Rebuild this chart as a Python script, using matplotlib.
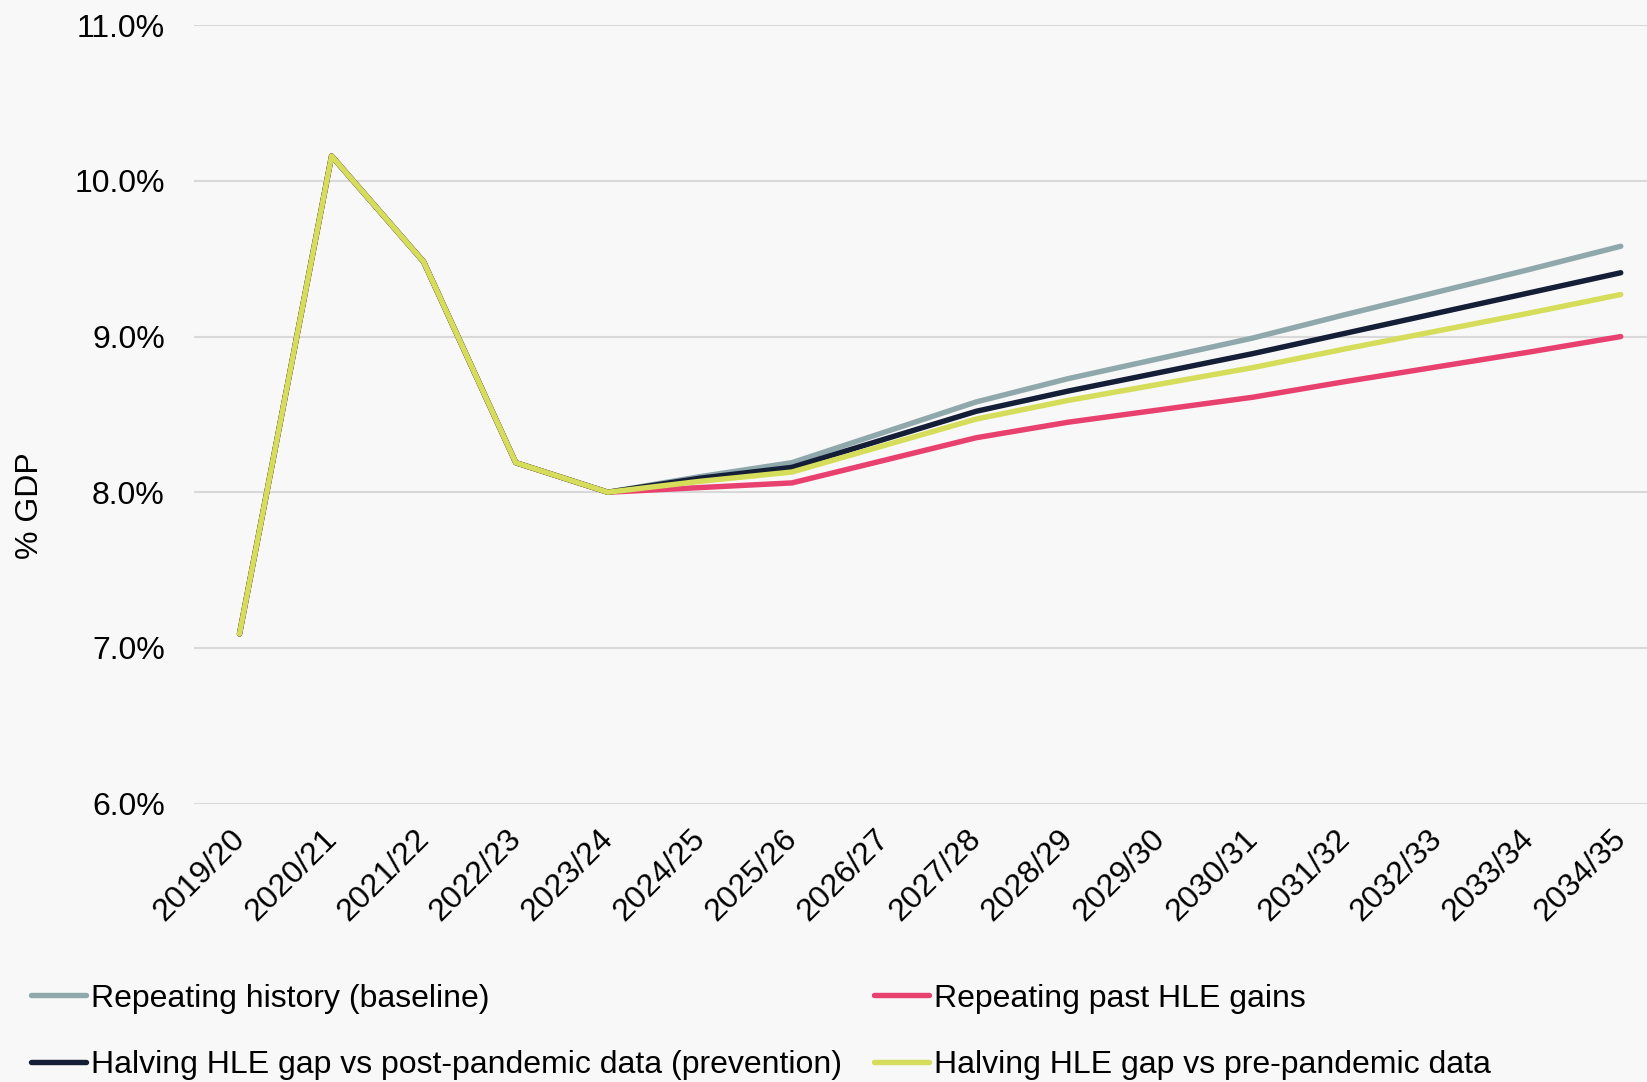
import numpy as np
import matplotlib.pyplot as plt
import matplotlib.transforms as mtransforms

plt.rcParams['font.family'] = ['Liberation Sans', 'DejaVu Sans']

# data (% of GDP)
years = ['2019/20', '2020/21', '2021/22', '2022/23', '2023/24', '2024/25', '2025/26',
         '2026/27', '2027/28', '2028/29', '2029/30', '2030/31', '2031/32', '2032/33',
         '2033/34', '2034/35']
history = [7.09, 10.16, 9.48, 8.19, 8.00]
baseline = history + [8.10, 8.19, 8.385, 8.58, 8.73, 8.86, 8.99, 9.14, 9.285, 9.43, 9.58]
past_gains = history + [8.03, 8.06, 8.205, 8.35, 8.45, 8.53, 8.61, 8.71, 8.805, 8.90, 9.00]
prevention = history + [8.09, 8.16, 8.34, 8.52, 8.65, 8.77, 8.89, 9.02, 9.15, 9.28, 9.41]
pre_pandemic = history + [8.07, 8.13, 8.30, 8.47, 8.59, 8.695, 8.80, 8.92, 9.035, 9.15, 9.27]

bg = '#f8f8f8'
fig = plt.figure(figsize=(16.47, 10.82), dpi=100, facecolor=bg)
ax = fig.add_axes([0.1178, 0.2573, 1 - 0.1178, 0.9767 - 0.2573])
ax.set_facecolor(bg)

x = np.arange(len(years))
lines = {}
lines['base'], = ax.plot(x, baseline, color='#8fa8ac', lw=3.9, solid_capstyle='round',
                         label='Repeating history (baseline)')
lines['past'], = ax.plot(x, past_gains, color='#e8416f', lw=3.9, solid_capstyle='round',
                         label='Repeating past HLE gains')
lines['prev'], = ax.plot(x, prevention, color='#141e36', lw=3.9, solid_capstyle='round',
                         label='Halving HLE gap vs post-pandemic data (prevention)')
lines['pre'], = ax.plot(x, pre_pandemic, color='#d5dd5a', lw=3.9, solid_capstyle='round',
                        label='Halving HLE gap vs pre-pandemic data')

ax.set_ylim(6.0, 11.0)
ax.set_xlim(-0.494, 15.285)
yt = np.arange(6.0, 11.01, 1.0)
ax.set_yticks(yt)
ax.set_yticklabels([f'{v:.1f}%' for v in yt], fontsize=23)
ax.set_xticks(x)
ax.set_xticklabels(years, rotation=45, ha='right', rotation_mode='anchor', fontsize=23)
ax.tick_params(length=0, pad=12)
ax.tick_params(axis='y', pad=21)
# nudge the rotated year labels so their ends sit under the points
shift = mtransforms.ScaledTranslation(-0.10, -0.04, fig.dpi_scale_trans)
for lab in ax.get_xticklabels():
    lab.set_transform(lab.get_transform() + shift)
ax.grid(axis='y', color='#d9d9d9', lw=1.5)
ax.set_axisbelow(True)
for s in ax.spines.values():
    s.set_visible(False)

fig.text(0.009, 0.533, '% GDP', rotation=90, fontsize=23, ha='left', va='center')

handles = [lines['base'], lines['prev'], lines['past'], lines['pre']]
fig.legend(handles=handles, labels=[h.get_label() for h in handles], ncol=2,
           loc='lower left', bbox_to_anchor=(0.0012, -0.025), frameon=False,
           fontsize=23, handlelength=1.72, handletextpad=0.16,
           columnspacing=1.02, labelspacing=1.15)

fig.savefig('out.png', dpi=100, facecolor=bg)
